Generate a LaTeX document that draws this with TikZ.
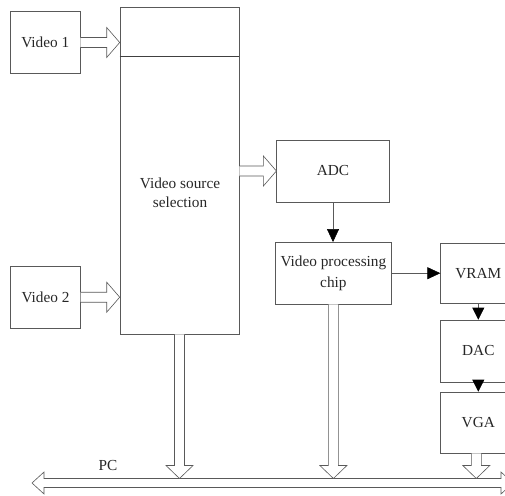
\documentclass[tikz,border=0pt]{standalone}
\usepackage{fontspec}
\setmainfont{Liberation Serif}
\usetikzlibrary{calc,arrows.meta}
\newcommand\myrarrow[2]{%
  \draw[hollow] ($(#1)+(0,-5)$) -- ($(#2)+(-13,-5)$) -- ($(#2)+(-13,-15)$) -- (#2)
    -- ($(#2)+(-13,15)$) -- ($(#2)+(-13,5)$) -- ($(#1)+(0,5)$);}
\newcommand\mydarrow[2]{%
  \draw[hollow] ($(#1)+(-5,0)$) -- ($(#2)+(-5,-13)$) -- ($(#2)+(-13.5,-13)$) -- (#2)
    -- ($(#2)+(13.5,-13)$) -- ($(#2)+(5,-13)$) -- ($(#1)+(5,0)$);}
\begin{document}
\begin{tikzpicture}[x=1pt,y=-1pt,
  box/.style={draw=black!65,line width=0.6pt,rectangle,inner sep=0pt,
    font=\fontsize{15.3}{20.5}\selectfont,text=black!85,align=center},
  lbl/.style={inner sep=0pt,font=\fontsize{15.3}{18.5}\selectfont,text=black!85,align=center},
  hollow/.style={draw=black!65,line width=0.6pt,fill=white},
  solidarrow/.style={draw=black!65,line width=0.6pt,
    -{Triangle[length=13pt,width=12pt,color=black]}},
  shortarrow/.style={draw=black!65,line width=0.6pt,
    -{Triangle[length=12pt,width=12pt,color=black]}}]
\useasboundingbox (0,0) rectangle (505,495);
\clip (0,0) rectangle (505,495);

% boxes
\node[box,minimum width=69.3pt,minimum height=61.6pt] (v1) at (45.3,42.5) {Video 1};
\node[box,minimum width=69.6pt,minimum height=62.3pt] (v2) at (45.5,297.2) {Video 2};
\node[box,minimum width=119pt,minimum height=327pt] (sel) at (179.5,170.5) {};
\node[lbl] (seltext) at (180,193) {Video source\\selection};
\node[box,minimum width=112.6pt,minimum height=61.7pt] (adc) at (333,171) {ADC};
\node[box,minimum width=116.7pt,minimum height=61.7pt] (vpc) at (333.4,273.2) {Video processing\\chip};
\node[box,minimum width=75.3pt,minimum height=60.5pt] (vram) at (478.3,273.2) {VRAM};
\node[box,minimum width=75.3pt,minimum height=62pt] (dac) at (478.3,351) {DAC};
\node[box,minimum width=75.3pt,minimum height=61pt] (vga) at (478.3,422.5) {VGA};
\node[lbl] (pc) at (108,466) {PC};

% line inside selection box
\coordinate (selline) at (0,56);
\draw[draw=black!75,line width=1pt] (sel.west |- selline) -- (sel.east |- selline);

% hollow arrows into boxes
\myrarrow{v1.east}{sel.west |- v1.east}
\myrarrow{v2.east}{sel.west |- v2.east}
\myrarrow{sel.east |- adc.west}{adc.west}

% bus
\coordinate (busL) at (32,483);
\coordinate (busR) at (513,483);
\coordinate (bustop) at (0,478.5);
\draw[hollow] (busL) -- ($(busL)+(12,-11)$) -- ($(busL)+(12,-4.5)$)
  -- ($(busR)+(-12,-4.5)$) -- ($(busR)+(-12,-11)$) -- (busR)
  -- ($(busR)+(-12,11)$) -- ($(busR)+(-12,4.5)$)
  -- ($(busL)+(12,4.5)$) -- ($(busL)+(12,11)$) -- cycle;

% hollow arrows down to bus
\mydarrow{sel.south}{sel.south |- bustop}
\mydarrow{vpc.south}{vpc.south |- bustop}
\coordinate (vgaout) at ($(vga.south)+(-2,0)$);
\mydarrow{vgaout}{vgaout |- bustop}

% solid arrows
\draw[solidarrow] (adc.south) -- (vpc.north -| adc.south);
\draw[solidarrow] (vpc.east) -- (vram.west |- vpc.east);
\draw[shortarrow] (vram.south) -- (dac.north);
\draw[shortarrow] (dac.south) -- (vga.north);
\end{tikzpicture}
\end{document}
